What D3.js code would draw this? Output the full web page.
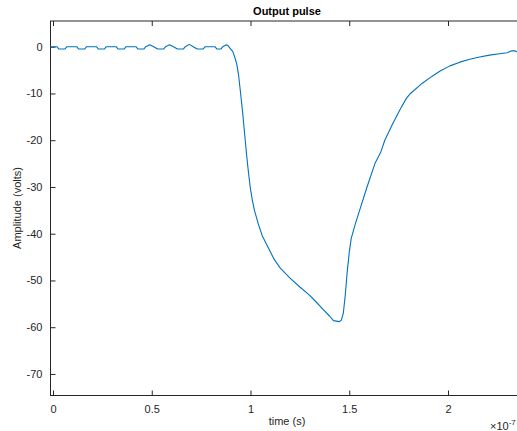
<!DOCTYPE html>
<html>
<head>
<meta charset="utf-8">
<script src="https://cdn.jsdelivr.net/npm/d3@7"></script>
<style>
  body { margin: 0; background: #fff; }
  svg { display: block; font-family: "Liberation Sans", Arial, sans-serif; }
</style>
</head>
<body>
<svg></svg>
<script>
const w = 517;
const h = 431;
const plotL = 50, plotR = 527, plotT = 21, plotB = 395;

// time in units of 1e-7 s
const time = [-0.015, 0.02, 0.03, 0.06, 0.07, 0.12, 0.13, 0.16, 0.17, 0.22, 0.23, 0.26, 0.27,
  0.32, 0.33, 0.36, 0.37, 0.42, 0.43, 0.46, 0.47, 0.49, 0.51, 0.53, 0.56, 0.57, 0.59, 0.61,
  0.63, 0.66, 0.67, 0.69, 0.71, 0.73, 0.76, 0.77, 0.82, 0.83, 0.85, 0.86, 0.875, 0.885, 0.9,
  0.91, 0.92, 0.93, 0.94, 0.95, 0.96, 0.97, 0.98, 0.99, 1.0, 1.01, 1.02, 1.04, 1.06, 1.09, 1.12,
  1.15, 1.2, 1.25, 1.3, 1.33, 1.37, 1.4, 1.42, 1.45, 1.46, 1.47, 1.48, 1.49, 1.5, 1.51, 1.53,
  1.56, 1.59, 1.63, 1.66, 1.68, 1.72, 1.76, 1.79, 1.81, 1.87, 1.92, 1.96, 2.01, 2.06, 2.11,
  2.16, 2.21, 2.26, 2.3, 2.32, 2.34, 2.36];
const amplitude = [0, 0, -0.5, -0.5, 0, 0, -0.5, -0.5, 0, 0, -0.5, -0.5, 0,
  0, -0.5, -0.5, 0, 0, -0.5, -0.5, 0, 0.4, 0, -0.5, -0.5, 0, 0.4, 0,
  -0.5, -0.5, 0, 0.5, 0, -0.5, -0.5, 0, 0, -0.5, -0.5, 0, 0.4, 0.3, -0.5,
  -1, -2.2, -3.6, -6.2, -10, -14, -18.5, -23, -27, -30.5, -33, -35, -38, -40.5, -43, -45.5,
  -47.3, -49.5, -51.4, -53.2, -54.5, -56.3, -57.6, -58.6, -58.8, -58.5, -57, -53, -48, -44, -41, -38,
  -34, -30, -25, -22.5, -20, -16.5, -13.2, -11, -10, -7.8, -6.3, -5.2, -4.1, -3.3, -2.7,
  -2.2, -1.8, -1.5, -1.3, -0.9, -0.9, -1.3];

const xTicks = [0, 0.5, 1, 1.5, 2];
const yTicks = [0, -10, -20, -30, -40, -50, -60, -70];

const svg = d3.select("svg").attr("width", w).attr("height", h);

const x = d3.scaleLinear().domain([-0.0152, 2.4]).range([plotL, plotR]);
const y = d3.scaleLinear().domain([-74.5, 5.5]).range([plotB, plotT]);

const axisColor = "#262626";

/** frame lines */
svg.append("line").attr("x1", plotL).attr("x2", plotR).attr("y1", plotT).attr("y2", plotT)
  .attr("stroke", axisColor).attr("stroke-width", 1);
svg.append("line").attr("x1", plotL + 0.5).attr("x2", plotL + 0.5).attr("y1", plotT).attr("y2", plotB + 0.5)
  .attr("stroke", axisColor);
svg.append("line").attr("x1", plotL).attr("x2", plotR).attr("y1", plotB + 0.5).attr("y2", plotB + 0.5)
  .attr("stroke", axisColor);

/** ticks (inside) */
const xAxis = svg.append("g").attr("transform", `translate(0,${plotB + 0.5})`)
  .call(d3.axisBottom(x).tickValues(xTicks).tickSizeInner(-5).tickSizeOuter(0).tickPadding(10)
    .tickFormat((d) => String(d)));
const xTop = svg.append("g").attr("transform", `translate(0,${plotT})`)
  .call(d3.axisTop(x).tickValues(xTicks).tickSizeInner(-5).tickSizeOuter(0).tickFormat(""));
const yAxis = svg.append("g").attr("transform", `translate(${plotL + 0.5},0)`)
  .call(d3.axisLeft(y).tickValues(yTicks).tickSizeInner(-5).tickSizeOuter(0).tickPadding(8)
    .tickFormat((d) => String(d)));

[xAxis, xTop, yAxis].forEach((g) => {
  g.select(".domain").remove();
  g.selectAll("line").attr("stroke", axisColor);
  g.selectAll("text").attr("fill", axisColor).attr("font-size", 11)
    .attr("font-family", "Liberation Sans, Arial, sans-serif");
});

/** pulse line */
const data = time.map((t, i) => [t, amplitude[i]]);
svg.append("path")
  .datum(data)
  .attr("fill", "none")
  .attr("stroke", "#0072BD")
  .attr("stroke-width", 1.1)
  .attr("stroke-linejoin", "round")
  .attr("d", d3.line().x((d) => x(d[0])).y((d) => y(d[1])));

/** labels */
svg.append("text").text("Output pulse")
  .attr("x", 287).attr("y", 15).attr("text-anchor", "middle")
  .attr("font-size", 11).attr("font-weight", "bold").attr("fill", "#000");

svg.append("text").text("time (s)")
  .attr("x", 287).attr("y", 425).attr("text-anchor", "middle")
  .attr("font-size", 11).attr("fill", axisColor);

svg.append("text").text("Amplitude (volts)")
  .attr("transform", `translate(21,${(plotT + plotB) / 2}) rotate(-90)`)
  .attr("text-anchor", "middle")
  .attr("font-size", 11).attr("fill", axisColor);

const expo = svg.append("text").attr("x", 490).attr("y", 430)
  .attr("font-size", 11).attr("fill", axisColor);
expo.append("tspan").text("\u00d710");
expo.append("tspan").text("-7").attr("dy", -5).attr("font-size", 8);
</script>
</body>
</html>
